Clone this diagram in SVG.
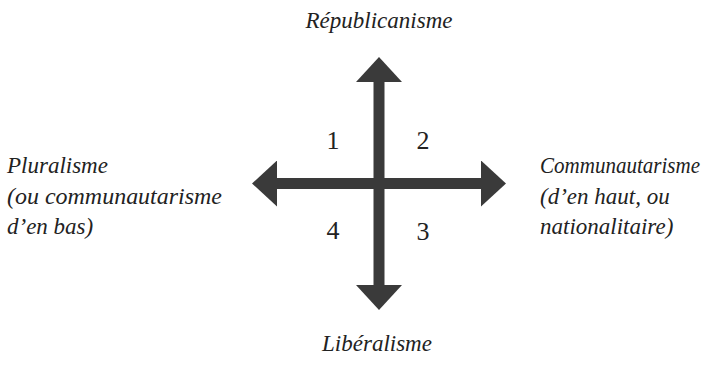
<svg xmlns="http://www.w3.org/2000/svg" width="724" height="365" viewBox="0 0 724 365">
  <style>
    .lbl { font-family: 'Liberation Serif', 'DejaVu Serif', 'Times New Roman', serif; font-style: italic; font-size: 23px; fill: #222222; }
    .num { font-family: 'Liberation Serif', 'DejaVu Serif', 'Times New Roman', serif; font-size: 26px; fill: #222222; text-anchor: middle; }
    .axis { stroke: #3a3a3a; stroke-width: 11; fill: none; }
  </style>
  <defs>
    <marker id="head" viewBox="0 0 25 46" refX="1" refY="23" markerWidth="25" markerHeight="46" markerUnits="userSpaceOnUse" orient="auto-start-reverse">
      <path d="M0,0 L25,23 L0,46 Z" fill="#3a3a3a"/>
    </marker>
  </defs>
  <rect width="724" height="365" fill="#ffffff"/>
  <g id="connectors">
    <line class="axis" x1="379" y1="81" x2="379" y2="286" marker-start="url(#head)" marker-end="url(#head)"/>
    <line class="axis" x1="276" y1="183.5" x2="482" y2="183.5" marker-start="url(#head)" marker-end="url(#head)"/>
  </g>
  <g id="republicanisme">
    <text class="lbl" x="379" y="28" text-anchor="middle">Républicanisme</text>
  </g>
  <g id="liberalisme">
    <text class="lbl" x="377" y="351" text-anchor="middle">Libéralisme</text>
  </g>
  <g id="pluralisme">
    <text class="lbl" x="7" y="173">Pluralisme</text>
    <text class="lbl" x="7" y="204" textLength="215" lengthAdjust="spacingAndGlyphs">(ou communautarisme</text>
    <text class="lbl" x="7" y="234">d’en bas)</text>
  </g>
  <g id="communautarisme">
    <text class="lbl" x="540" y="173" textLength="160" lengthAdjust="spacingAndGlyphs">Communautarisme</text>
    <text class="lbl" x="540" y="204">(d’en haut, ou</text>
    <text class="lbl" x="540" y="234">nationalitaire)</text>
  </g>
  <g id="q1"><text class="num" x="333" y="149">1</text></g>
  <g id="q2"><text class="num" x="423" y="149">2</text></g>
  <g id="q3"><text class="num" x="423" y="240">3</text></g>
  <g id="q4"><text class="num" x="333" y="239">4</text></g>
</svg>
